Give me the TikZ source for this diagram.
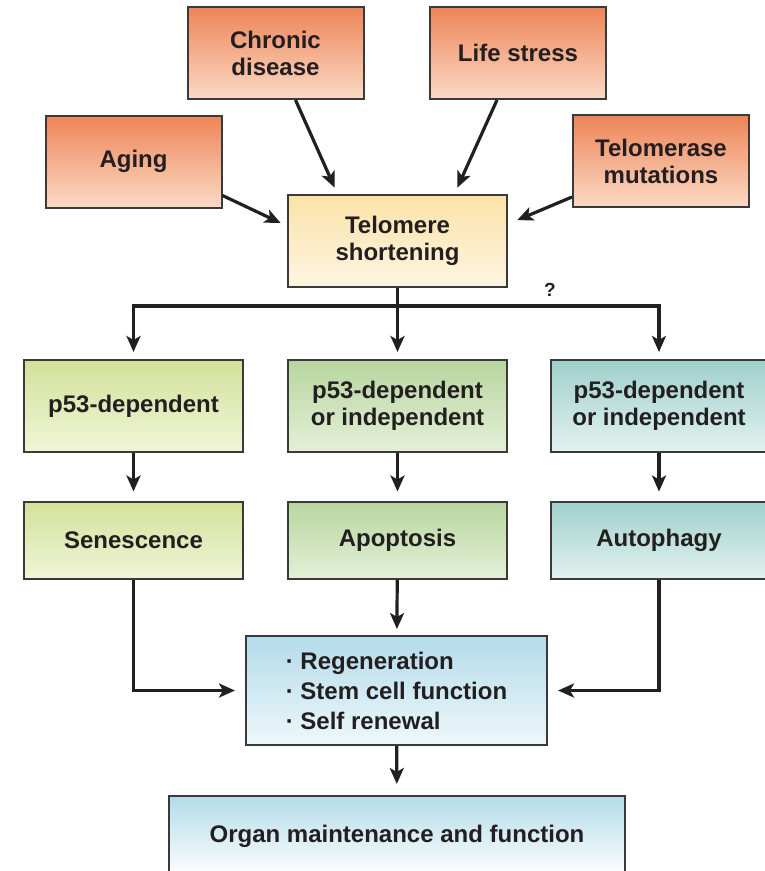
\documentclass[tikz,border=0pt]{standalone}
\usepackage{fontspec}
\setmainfont{Liberation Sans}
\usepackage{tikz}
\usetikzlibrary{arrows.meta,positioning}
\definecolor{inkdark}{HTML}{231F20}
\definecolor{edgegray}{HTML}{3A3A3A}
\definecolor{causetop}{HTML}{EE8457}
\definecolor{causebot}{HTML}{FBDAC5}
\definecolor{telotop}{HTML}{FCE2A8}
\definecolor{telobot}{HTML}{FDF5E2}
\definecolor{limetop}{HTML}{D3E19A}
\definecolor{limebot}{HTML}{F0F5D8}
\definecolor{greentop}{HTML}{B7D69F}
\definecolor{greenbot}{HTML}{E4F0D8}
\definecolor{tealtop}{HTML}{9FD0CB}
\definecolor{tealbot}{HTML}{E2F2F0}
\definecolor{bluetop}{HTML}{B3DBE9}
\definecolor{bluebot}{HTML}{EEF8FB}
\tikzset{box/.style={draw=edgegray,line width=2pt,rectangle,inner sep=2pt,
        text=inkdark,align=center,font=\fontsize{24}{27}\selectfont\bfseries},
    causebox/.style={box,minimum width=176pt,minimum height=92pt,
        top color=causetop,bottom color=causebot},
    telobox/.style={box,minimum width=219pt,minimum height=92pt,
        top color=telotop,bottom color=telobot},
    pathbox/.style={box,minimum width=219pt,minimum height=92pt},
    fatebox/.style={box,minimum width=219pt,minimum height=77pt},
    limeshade/.style={top color=limetop,bottom color=limebot},
    greenshade/.style={top color=greentop,bottom color=greenbot},
    tealshade/.style={top color=tealtop,bottom color=tealbot},
    blueshade/.style={top color=bluetop,bottom color=bluebot},
    arrowline/.style={line width=3.2pt,inkdark},
    arr/.style={arrowline,-{Stealth[length=16pt,width=14pt,inset=4pt]},shorten >=7pt}
}

\begin{document}
\begin{tikzpicture}[x=1pt,y=-1pt]
\path[use as bounding box,fill=white] (0,0) rectangle (764,871);

% causes
\node (chronic) at (275.5,53) [causebox] {Chronic\\disease};
\node (life) at (518,53) [causebox] {Life stress};
\node (aging) at (133.5,161.5) [causebox] {Aging};
\node (telomerase) at (661,161) [causebox] {Telomerase\\mutations};

\node (telo) at (397.5,241) [telobox] {Telomere\\shortening};

\draw [arr] ([xshift=20pt]chronic.south) -- ([xshift=-60pt]telo.north);
\draw [arr] ([xshift=-21pt]life.south) -- ([xshift=57pt]telo.north);
\draw [arr] ([yshift=-34pt]aging.east) -- ([yshift=15pt]telo.west);
\draw [arr,shorten >=10pt] ([yshift=-36pt]telomerase.west) -- ([yshift=17pt]telo.east);

% three pathways
\node (dep1) at (133.5,406) [pathbox,limeshade] {p53-dependent};
\node (dep2) at (397.5,406) [pathbox,greenshade] {p53-dependent\\or independent};
\node (dep3) at (659,406) [pathbox,tealshade,minimum width=216pt] {p53-dependent\\or independent};

\coordinate (split) at (397.5,306);
\draw [arrowline] (telo) -- (split);
\draw [arr] (split) -| (dep1);
\draw [arr] (split) -- (dep2);
\draw [arr] (split) -| (dep3);
\node (unknown) at (550,290) [text=inkdark,font=\fontsize{19}{20}\selectfont\bfseries] {?};

\node (sen) at (133.5,540) [fatebox,limeshade] {Senescence};
\node (apo) at (397.5,540) [fatebox,greenshade] {Apoptosis};
\node (auto) at (659,540) [fatebox,tealshade,minimum width=216pt] {Autophagy};

\draw [arr,shorten >=9pt] (dep1) -- (sen);
\draw [arr,shorten >=9pt] (dep2) -- (apo);
\draw [arr,shorten >=9pt] (dep3) -- (auto);

% outcome
\node (regen) at (396.5,690.5) [box,blueshade,minimum width=301pt,minimum height=109pt,
    align=left,font=\fontsize{24}{30}\selectfont\bfseries]
    {\textperiodcentered\ Regeneration\\\textperiodcentered\ Stem cell function\\\textperiodcentered\ Self renewal};

\draw [arr,shorten >=10pt] (sen) |- (regen);
\draw [arr,shorten >=6pt] (apo) -- (regen);
\draw [arr,shorten >=10pt] (auto) |- (regen);

\node (organ) at (397,836) [box,minimum width=456pt,minimum height=80pt,
    top color=bluetop,bottom color=white] {Organ maintenance and function};

\draw [arr,shorten >=11pt] (regen) -- (organ);

\end{tikzpicture}
\end{document}
